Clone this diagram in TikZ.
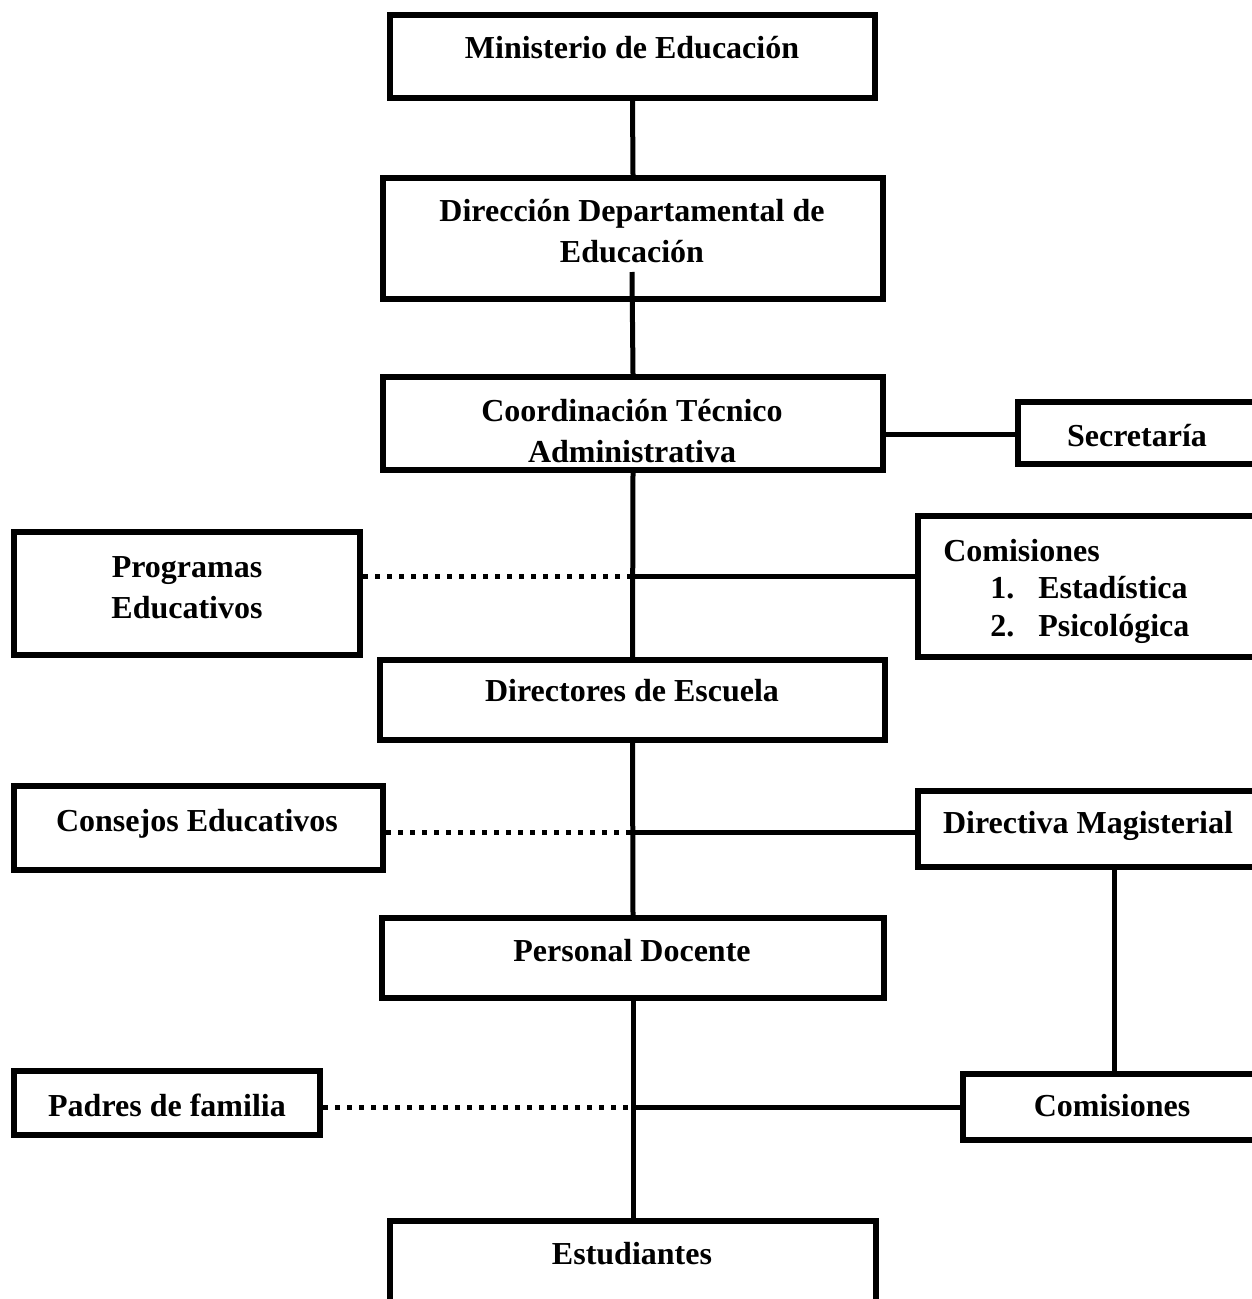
\documentclass[tikz,border=0pt]{standalone}
\usepackage{fontspec}
\setmainfont{Liberation Serif}
\usetikzlibrary{fit}
\begin{document}
\begin{tikzpicture}[x=0.75pt,y=-0.75pt,
  box/.style={draw, line width=4.5pt, rectangle, inner sep=0pt},
  conn/.style={line width=3.75pt},
  dotconn/.style={line width=3.75pt, dash pattern=on 3.75pt off 5.25pt},
  txt/.style={inner sep=0pt, anchor=base, align=center, font=\bfseries\fontsize{24}{30.75}\selectfont}]
\useasboundingbox (0,0) rectangle (1252,1299);
\clip (0,0) rectangle (1252,1299);
% boxes
\node[box, fit={(390,15) (875,98)}] (min) {};
\node[box, fit={(383,178) (883,299)}] (dir) {};
\node[box, fit={(383,377) (883,470)}] (coo) {};
\node[box, fit={(1018,402) (1300,464)}] (sec) {};
\node[box, fit={(14,532) (360,655)}] (pro) {};
\node[box, fit={(918,516) (1300,657)}] (com) {};
\node[box, fit={(380,660) (885,740)}] (dre) {};
\node[box, fit={(14,786) (383,870)}] (con) {};
\node[box, fit={(918,791) (1300,867)}] (dma) {};
\node[box, fit={(382,918) (884,998)}] (per) {};
\node[box, fit={(14,1071) (320,1135)}] (pad) {};
\node[box, fit={(963,1074) (1300,1140)}] (cm2) {};
\node[box, fit={(390,1221) (876,1350)}] (est) {};
% texts (multi-line nodes: anchor base = last line)
\node[txt] (tmin) at (632,58) {Ministerio de Educación};
\node[txt] (tdir) at (632,262) {Dirección Departamental de\\Educación};
\node[txt] (tcoo) at (632,462) {Coordinación Técnico\\Administrativa};
\node[txt] (tsec) at (1137,446) {Secretaría};
\node[txt, anchor=base west, align=left, font=\bfseries\fontsize{24}{28}\selectfont] (tcom) at (943,636)
  {Comisiones\\\hspace*{35.25pt}\makebox[36pt][l]{1.}Estadística\\\hspace*{35.25pt}\makebox[36pt][l]{2.}Psicológica};
\node[txt] (tpro) at (187,618) {Programas\\Educativos};
\node[txt] (tdre) at (632,701) {Directores de Escuela};
\node[txt] (tcon) at (197,831) {Consejos Educativos};
\node[txt] (tdma) at (1088,833) {Directiva Magisterial};
\node[txt] (tper) at (632,961) {Personal Docente};
\node[txt] (tpad) at (167,1116) {Padres de familia};
\node[txt] (tcm2) at (1112,1116) {Comisiones};
\node[txt] (test) at (632,1264) {Estudiantes};
% junctions
\coordinate (jd) at (632,272);
\coordinate (j1) at (632,576);
\coordinate (j2) at (632,832);
\coordinate (j3) at (632,1107);
\coordinate (jm) at (1114,867);
% connectors
\draw[conn] (min.south) -- (dir.north);
\draw[conn] (jd) -- (coo.north);
\draw[conn] (coo.east |- 0,434) -- (sec.west |- 0,434);
\draw[conn] (coo.south) -- (dre.north);
\draw[dotconn] (pro.east |- j1) -- (j1);
\draw[conn] (j1) -- (com.west |- j1);
\draw[conn] (dre.south) -- (per.north);
\draw[dotconn] (con.east |- j2) -- (j2);
\draw[conn] (j2) -- (dma.west |- j2);
\draw[conn] (jm) -- (jm |- cm2.north);
\draw[conn] (per.south) -- (est.north);
\draw[dotconn] (pad.east |- j3) -- (j3);
\draw[conn] (j3) -- (cm2.west |- j3);
\end{tikzpicture}
\end{document}
